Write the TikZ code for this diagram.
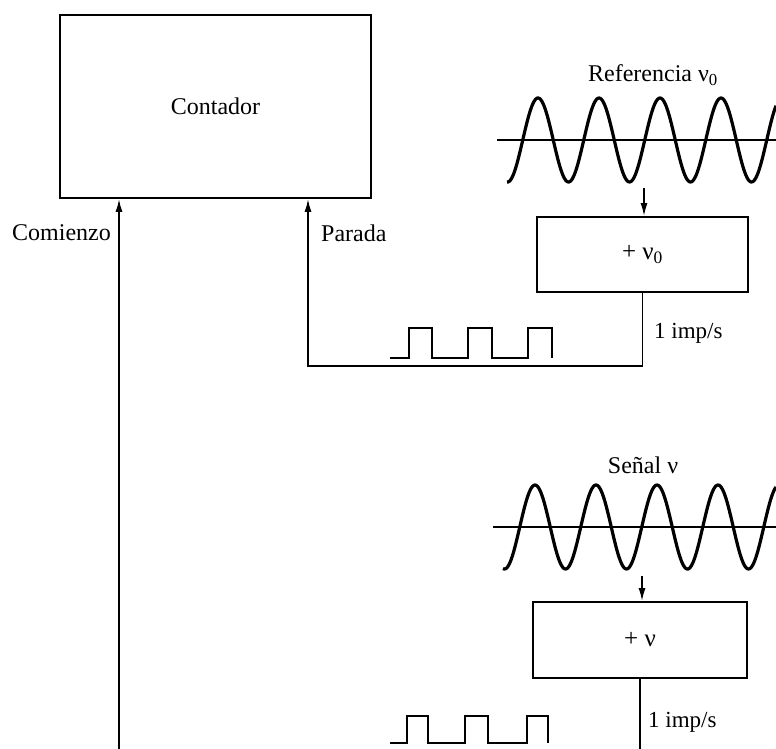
\documentclass[tikz,border=0pt]{standalone}
\usepackage{fontspec}
\setmainfont{Liberation Serif}
\usepackage{tikz}
\usetikzlibrary{arrows.meta, positioning}

\begin{document}
\begin{tikzpicture}[
    x=1pt, y=-1pt,
    box/.style={draw, rectangle, line width=1.9pt, inner sep=0pt, font=\fontsize{25}{30}\selectfont},
    arrow/.style={-{Latex[length=13pt,width=7pt]}, line width=1.6pt},
    wire/.style={line width=1.8pt},
    wave/.style={line width=3.2pt},
    axis/.style={line width=1.9pt},
    lbl/.style={font=\fontsize{24}{28}\selectfont, inner sep=0pt},
    small/.style={font=\fontsize{23}{27}\selectfont, inner sep=0pt}
]
\useasboundingbox (0,0) rectangle (776,749);

% Counter
\node[box, minimum width=311pt, minimum height=183pt, font=\fontsize{24}{28}\selectfont] (contador) at (215.5,106.5) {Contador};

% Reference oscillator
\node[lbl] (reftitle) at (653,75) {Referencia ν\textsubscript{0}};
\draw[axis] (497,140) -- (776,140);
\draw[wave] plot[domain=507:776, samples=240, smooth] (\x, {140+42*cos((\x-507.5)/61*360)});
\coordinate (refwave) at (644,188);
\node[box, minimum width=211pt, minimum height=75pt] (refbox) at (642.5,254.5) {+ ν\textsubscript{0}};
\draw[arrow] (refwave) -- (refwave |- refbox.north);
\node[small, anchor=west] (refrate) at (654,333) {1 imp/s};
\draw[wire] (390,358) -| (409,328) -| (432,358) -| (468,328) -| (492,358) -| (528,328) -| (552,358);
\draw[arrow] (refbox.south) -- ++(0,73) -| ([xshift=92.5pt]contador.south);
\node[lbl, anchor=west] (parada) at (321,233) {Parada};

% Signal
\node[lbl] (sigtitle) at (643,465) {Señal ν};
\draw[axis] (493,527) -- (776,527);
\draw[wave] plot[domain=503:776, samples=240, smooth] (\x, {527+42*cos((\x-504.5)/61*360)});
\coordinate (sigwave) at (642,576);
\node[box, minimum width=214pt, minimum height=76pt] (sigbox) at (640,640) {+ ν};
\draw[arrow] (sigwave) -- (sigwave |- sigbox.north);
\node[small, anchor=west] (sigrate) at (648,722) {1 imp/s};
\draw[wire] (390,743) -| (407,716) -| (428,743) -| (465,716) -| (488,743) -| (527,716) -| (548,743);
\draw[arrow] (sigbox.south) -- ++(0,74) -| ([xshift=-96.5pt]contador.south);
\node[lbl, anchor=east] (comienzo) at (111,233) {Comienzo};
\end{tikzpicture}
\end{document}
